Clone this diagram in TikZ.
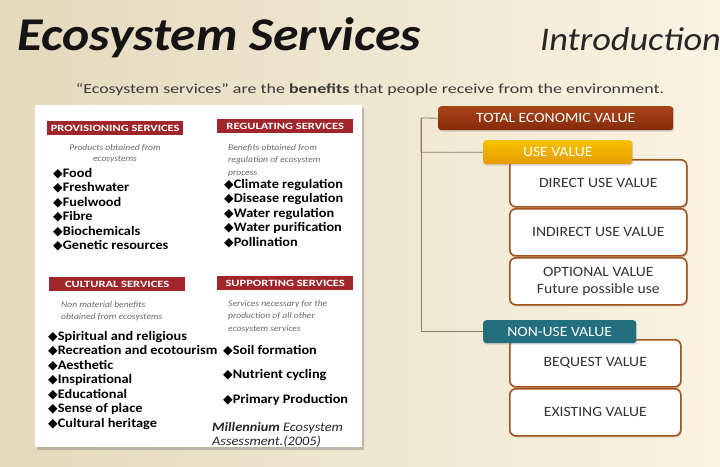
\documentclass[tikz,border=0pt]{standalone}
\usepackage{fontspec}
\setmainfont{Carlito}[FakeStretch=1.1]
\newfontfamily\widefont{Carlito}[FakeStretch=1.3]
\newfontfamily\symfont{DejaVu Sans}
\usetikzlibrary{shadows}

\definecolor{bgleft}{HTML}{E4D9BC}
\definecolor{bgright}{HTML}{FAF3E2}
\definecolor{hdrred}{HTML}{A1262B}
\definecolor{desctext}{HTML}{6A6A6A}
\definecolor{tevtop}{HTML}{A94318}
\definecolor{tevbot}{HTML}{842A0B}
\definecolor{usetop}{HTML}{F6C200}
\definecolor{usebot}{HTML}{E59A00}
\definecolor{nonuse}{HTML}{236F7E}
\definecolor{boxedge}{HTML}{A4521C}
\definecolor{linkcol}{HTML}{8C7B68}
\definecolor{valtext}{HTML}{333333}

\newcommand{\bul}{{\symfont\fontsize{12.5}{10}\selectfont ◆}}

\tikzset{
  x=1pt, y=-1pt,
  hdr/.style={fill=hdrred, text=white, font=\widefont\fontsize{9.6}{11}\selectfont\bfseries,
    minimum width=136pt, minimum height=14pt, inner sep=0pt, anchor=north west},
  desc/.style={text=desctext, font=\fontsize{8.7}{12.5}\selectfont\itshape,
    align=left, inner sep=0pt, anchor=north west},
  desccen/.style={desc, align=center, anchor=north, font=\fontsize{8.7}{11.3}\selectfont\itshape},
  items/.style={font=\fontsize{13}{14.5}\selectfont\bfseries, text=black,
    align=left, inner sep=0pt, anchor=north west},
  valbox/.style={draw=boxedge, line width=1.6pt, fill=white, rounded corners=6pt,
    minimum width=177pt, minimum height=47pt, anchor=north west, text=valtext,
    font=\fontsize{14.2}{17.5}\selectfont, align=center,
    drop shadow={shadow xshift=1pt, shadow yshift=-1.5pt, opacity=0.35}},
  tag/.style={rounded corners=3pt, text=white, font=\fontsize{14.2}{15}\selectfont,
    minimum height=24pt, anchor=north west, inner sep=0pt,
    drop shadow={shadow xshift=1pt, shadow yshift=-1.5pt, opacity=0.3}},
  link/.style={draw=linkcol, line width=0.8pt}
}

\begin{document}
\begin{tikzpicture}
% backdrop
\shade[left color=bgleft, right color=bgright] (0,0) rectangle (720,466);
\useasboundingbox (0,0) rectangle (720,466);

% headings
\node[anchor=base west, inner sep=0pt, font=\fontsize{47}{50}\selectfont\bfseries\itshape, text=black!92]
  (title) at (17,50) {Ecosystem Services};
\node[anchor=base east, inner sep=0pt, font=\fontsize{33}{35}\selectfont\itshape, text=black!85]
  (intro) at (721,50) {Introduction};
\node[anchor=base, inner sep=0pt, font=\widefont\fontsize{13.8}{15}\selectfont, text=black!78]
  (subtitle) at (370,93) {“Ecosystem services” are the \textbf{benefits} that people receive from the environment.};

% services panel
\node[fill=white, minimum width=327pt, minimum height=342pt, inner sep=0pt, anchor=north west,
  drop shadow={shadow xshift=2pt, shadow yshift=-2.5pt, opacity=0.45}] (panel) at (35,105) {};

\node[hdr] (prov) at (47,121) {PROVISIONING SERVICES};
\node[hdr] (reg) at (217,119) {REGULATING SERVICES};
\node[hdr] (cult) at (49,277) {CULTURAL SERVICES};
\node[hdr] (supp) at (217,276) {SUPPORTING SERVICES};

\node[desccen] (provdesc) at (115,144) {Products obtained from\\ecosystems};
\node[desc] (regdesc) at (228,144) {Benefits obtained from\\regulation of ecosystem\\process};
\node[desc] (cultdesc) at (61,301) {Non material benefits\\obtained from ecosystems};
\node[desc] (suppdesc) at (228,300) {Services necessary for the\\production of all other\\ecosystem services};

\node[items] (provlist) at (53,168) {\bul Food\\ \bul Freshwater\\ \bul Fuelwood\\ \bul Fibre\\ \bul Biochemicals\\ \bul Genetic resources};
\node[items] (reglist) at (224,179) {\bul Climate regulation\\ \bul Disease regulation\\ \bul Water regulation\\ \bul Water purification\\ \bul Pollination};
\node[items] (cultlist) at (48,331) {\bul Spiritual and religious\\ \bul Recreation and ecotourism\\ \bul Aesthetic\\ \bul Inspirational\\ \bul Educational\\ \bul Sense of place\\ \bul Cultural heritage};
\node[items, font=\fontsize{13}{24.6}\selectfont\bfseries] (supplist) at (223,345) {\bul Soil formation\\ \bul Nutrient cycling\\ \bul Primary Production};

\node[anchor=north west, inner sep=0pt, align=left, font=\fontsize{13}{14.5}\selectfont\itshape, text=black!85]
  (source) at (212,422) {\textbf{Millennium} Ecosystem\\Assessment.(2005)};

% value boxes
\node[valbox] (direct) at (509,159) {DIRECT USE VALUE};
\node[valbox] (indirect) at (509,208) {INDIRECT USE VALUE};
\node[valbox] (optional) at (509,257) {OPTIONAL VALUE\\Future possible use};
\node[valbox, minimum width=171pt] (bequest) at (509,339) {BEQUEST VALUE};
\node[valbox, minimum width=171pt] (existing) at (509,388) {EXISTING VALUE};

\node[tag, minimum width=235pt, top color=tevtop, bottom color=tevbot] (tev) at (438,106) {TOTAL ECONOMIC VALUE};
\node[tag, minimum width=149pt, top color=usetop, bottom color=usebot] (use) at (483,140) {USE VALUE};
\node[tag, minimum width=153pt, fill=nonuse, minimum height=23pt] (nonuseval) at (483,320) {NON-USE VALUE};

% tree links
\coordinate (trunk) at (421,118);
\draw[link] (tev.west) -- (trunk) |- (use.west);
\draw[link] (trunk) |- (nonuseval.west);
\end{tikzpicture}
\end{document}
